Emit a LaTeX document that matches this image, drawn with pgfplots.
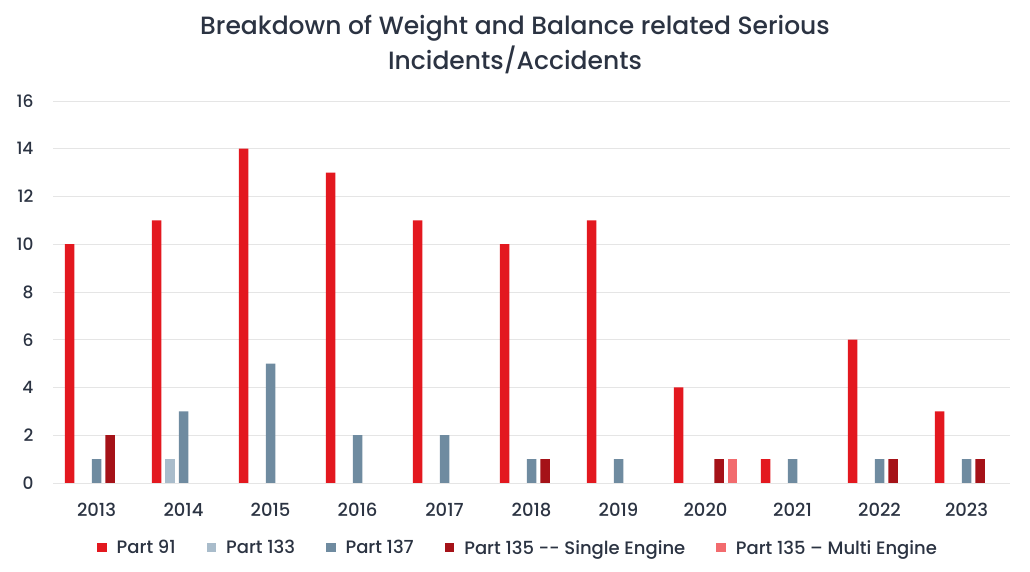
\documentclass[border=0pt]{standalone}
\usepackage{pgfplots}
\pgfplotsset{compat=1.18}
\usepackage{fontspec}
\setmainfont{Poppins}
\newfontfamily\medfont{Poppins Medium}

\definecolor{p91}{HTML}{E3181F}
\definecolor{p133}{HTML}{A9BCCB}
\definecolor{p137}{HTML}{6F8BA0}
\definecolor{p135s}{HTML}{A51218}
\definecolor{p135m}{HTML}{F26B6E}
\definecolor{txt}{HTML}{2B3342}

\begin{document}
\begin{tikzpicture}
\useasboundingbox (0,0) rectangle (1030pt,572pt);
\node[align=center, text=txt, font=\medfont\fontsize{25}{35}\selectfont] at (515pt,527pt)
  {Breakdown of Weight and Balance related Serious\\Incidents/Accidents};
\begin{axis}[
    at={(53pt,89pt)}, anchor=south west,
    width=957pt, height=382pt, scale only axis,
    xmin=-0.5, xmax=10.5,
    ymin=0, ymax=16,
    ybar=4pt, bar width=9.5pt,
    axis line style={draw=none},
    tick style={draw=none},
    ymajorgrids=true,
    grid style={color=black!10, line width=0.8pt},
    ytick={0,2,...,16},
    xtick={0,...,10},
    xticklabels={2013,2014,2015,2016,2017,2018,2019,2020,2021,2022,2023},
    /pgf/number format/assume math mode=true,
    ticklabel style={text=txt},
    xticklabel style={font=\medfont\fontsize{18}{18}\selectfont, yshift=-12pt},
    yticklabel style={font=\medfont\fontsize{17}{17}\selectfont, xshift=-16pt},
    legend columns=5,
    legend style={at={(axis description cs:0.486,-0.17)}, anchor=center,
        draw=none, font=\medfont\fontsize{18}{18}\selectfont, text=txt,
        /tikz/every odd column/.append style={column sep=8pt},
        /tikz/every even column/.append style={column sep=29pt}},
    legend image code/.code={\fill[#1] (0pt,-4.5pt) rectangle (9.5pt,5pt);},
]
\addplot[fill=p91, draw=none] coordinates {
 (0,10) (1,11) (2,14) (3,13) (4,11) (5,10) (6,11) (7,4) (8,1) (9,6) (10,3)};
\addplot[fill=p133, draw=none] coordinates {
 (1,1)};
\addplot[fill=p137, draw=none] coordinates {
 (0,1) (1,3) (2,5) (3,2) (4,2) (5,1) (6,1) (8,1) (9,1) (10,1)};
\addplot[fill=p135s, draw=none] coordinates {
 (0,2) (5,1) (7,1) (9,1) (10,1)};
\addplot[fill=p135m, draw=none] coordinates {
 (7,1)};
\legend{Part 91, Part 133, Part 137, Part 135 -{}- Single Engine, Part 135 – Multi Engine}
\end{axis}
\end{tikzpicture}
\end{document}
